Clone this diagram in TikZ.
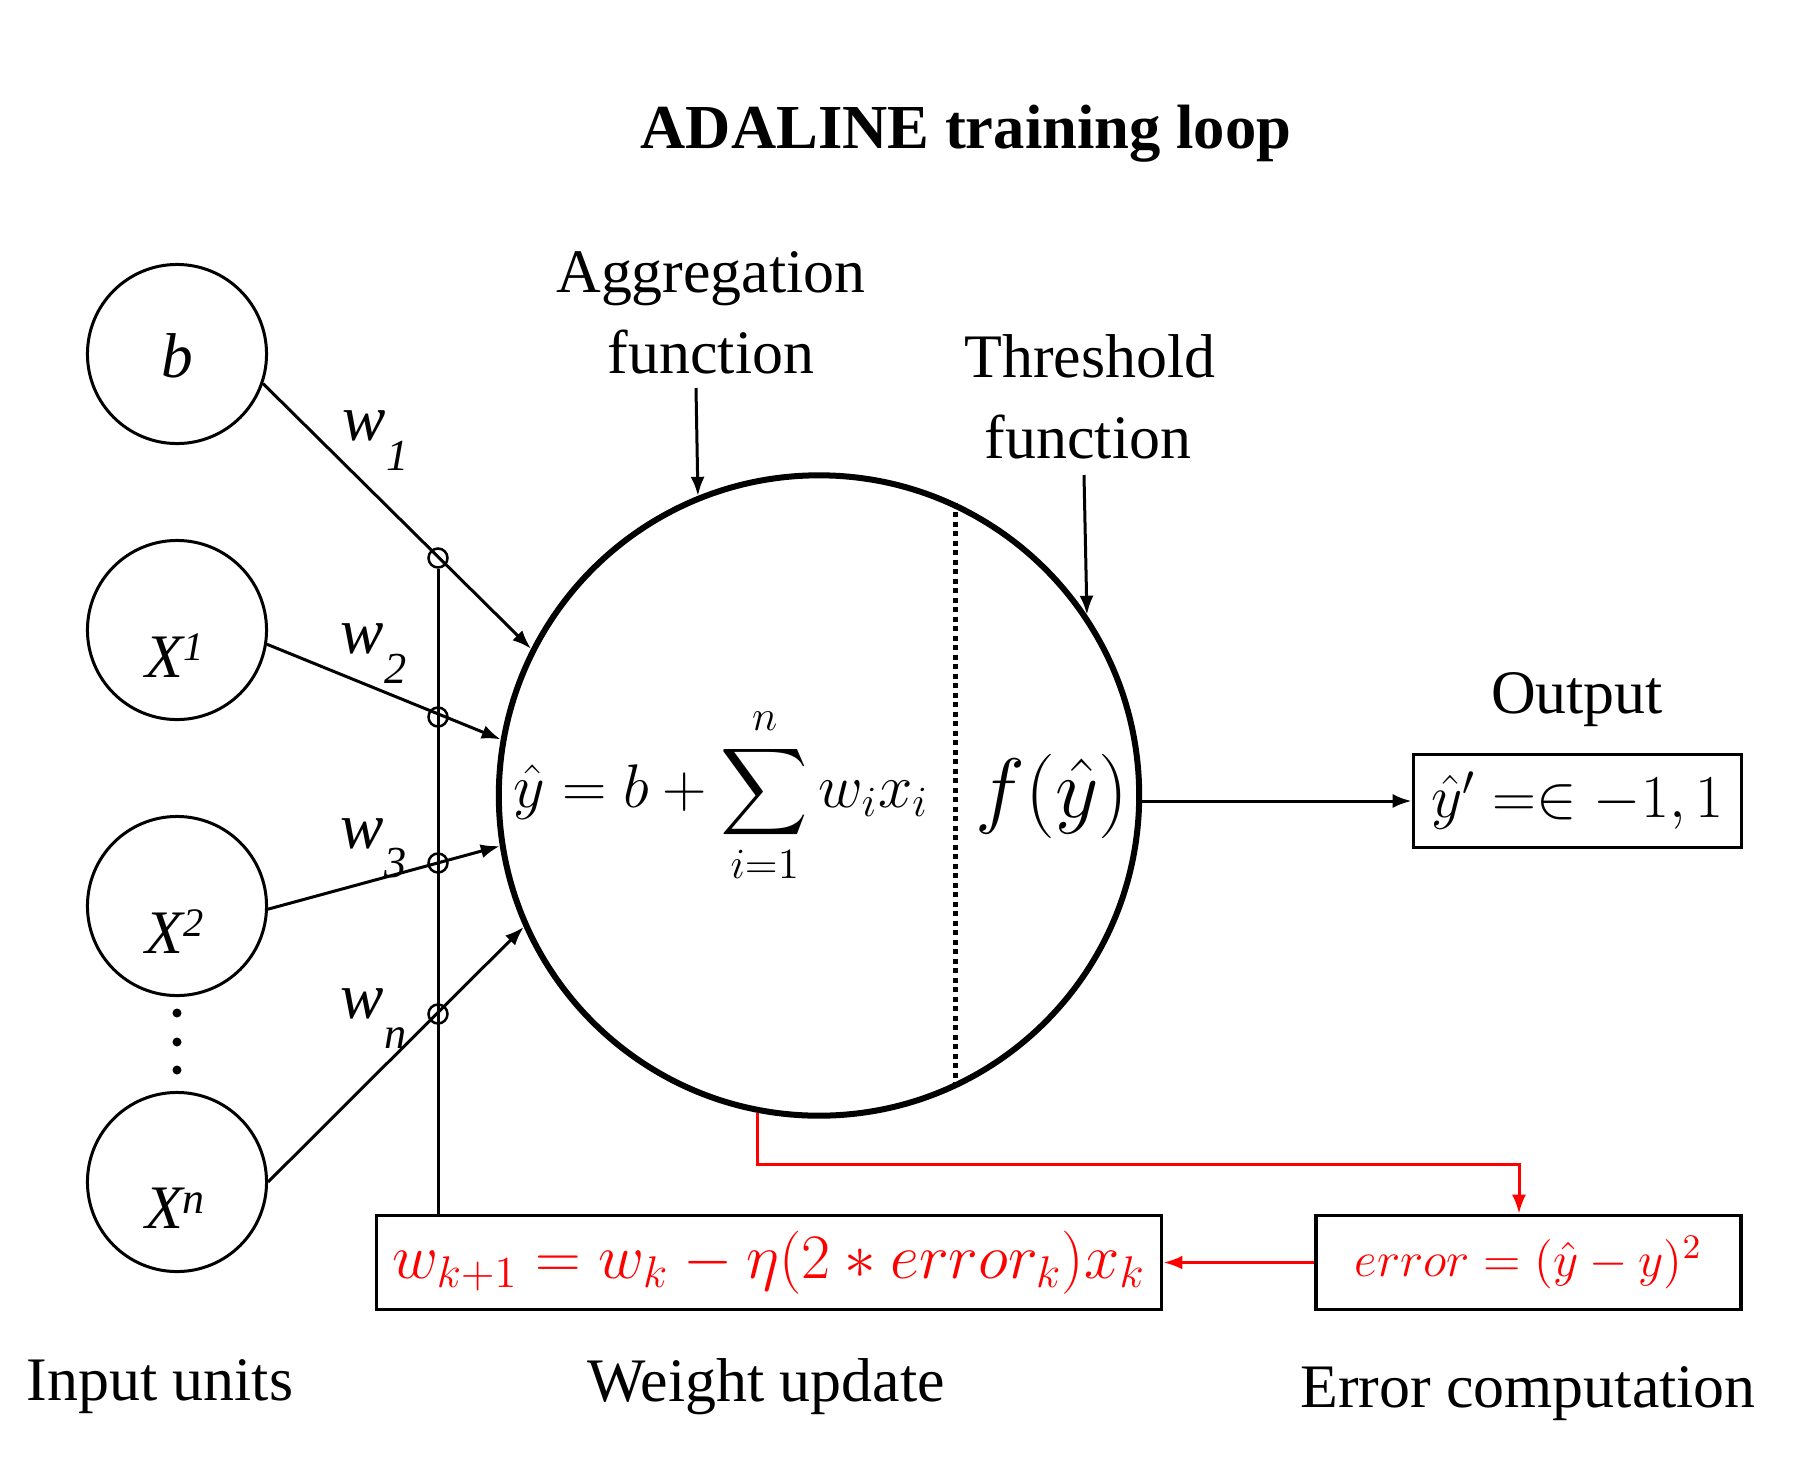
\RequirePackage{fix-cm}
\documentclass[tikz,border=0pt]{standalone}
\usepackage{exscale}
\usepackage[no-math]{fontspec}
\setmainfont{Liberation Serif}
\usetikzlibrary{arrows.meta}
\newcommand\fsz[1]{\fontsize{#1}{#1}\selectfont}
\begin{document}
\begin{tikzpicture}[x=0.01cm,y=-0.01cm,
  conn/.style={line width=0.03cm},
  arr/.style={-{Latex[length=0.19cm,width=0.14cm]}},
  inunit/.style={circle,draw,line width=0.03cm,minimum size=1.79cm,inner sep=0pt},
  tap/.style={circle,draw,line width=0.025cm,minimum size=0.19cm,inner sep=0pt},
  neuron/.style={circle,draw,line width=0.06cm,minimum size=6.4cm,inner sep=0pt},
  txt/.style={inner sep=0pt,anchor=base,font=\fsz{17.6}},
  wlab/.style={inner sep=0pt,anchor=base west,font=\fsz{18.5}\itshape},
  xlab/.style={inner sep=0pt,anchor=base,font=\fsz{17.6}\itshape},
  mbox/.style={draw,line width=0.035cm,inner sep=0pt},
  redline/.style={draw=red,line width=0.03cm},
  dotline/.style={line width=0.045cm,dash pattern=on 0.05cm off 0.045cm},
]
\useasboundingbox (0,0) rectangle (1808,1478);

% title and labels
\node[txt,font=\fsz{17.8}\bfseries] (title) at (966,148) {ADALINE training loop};
\node[txt] (agg1) at (711,292) {Aggregation};
\node[txt] (agg2) at (711,373) {function};
\node[txt] (thr1) at (1090,377) {Threshold};
\node[txt] (thr2) at (1088,458) {function};
\node[txt] (outl) at (1577,713) {Output};
\node[txt] (inl) at (160,1400) {Input units};
\node[txt] (wul) at (766,1401) {Weight update};
\node[txt] (ecl) at (1528,1407) {Error computation};

% neuron
\node[neuron] (big) at (819,795.5) {};
\draw[dotline] (big.65.2) -- (big.-65.2);
\node[inner sep=0pt,anchor=base,font=\fsz{17.5}] (sumf) at (721,807) {$\displaystyle \hat{y} = b + \sum_{i=1}^{n} w_i x_i$};
\node[inner sep=0pt,anchor=base,font=\fsz{24}] (fy) at (1052,817) {$f(\hat{y})$};

% input units
\node[inunit] (b) at (177,354) {};
\node[inunit] (x1) at (177,630) {};
\node[inunit] (x2) at (177,906) {};
\node[inunit] (xn) at (177,1182) {};
\node[xlab,font=\fsz{18}\itshape] (bl) at (177,377) {b};
\node[xlab] (x1l) at (175,677) {X\raisebox{0.17cm}{\fsz{11.5}1}};
\node[xlab] (x2l) at (175,953) {X\raisebox{0.17cm}{\fsz{11.5}2}};
\node[xlab] (xnl) at (175,1228) {X\raisebox{0.15cm}{\fsz{12.5}n}};
\fill (177,1013) circle[radius=0.045cm];
\fill (177,1042) circle[radius=0.045cm];
\fill (177,1070) circle[radius=0.045cm];

% taps
\node[tap] (t1) at (438,558) {};
\node[tap] (t2) at (438,717) {};
\node[tap] (t3) at (438,863) {};
\node[tap] (t4) at (438,1014) {};

% weight labels
\node[wlab] (w1) at (342,440) {w\raisebox{-0.3cm}{\fsz{12.6}1}};
\node[wlab] (w2) at (340,653) {w\raisebox{-0.3cm}{\fsz{12.6}2}};
\node[wlab] (w3) at (340,848) {w\raisebox{-0.29cm}{\fsz{12.6}3}};
\node[wlab] (wn) at (340,1018) {w\raisebox{-0.3cm}{\fsz{12.6}n}};

% boxes
\node[mbox,minimum width=7.85cm,minimum height=0.94cm,text=red,font=\fsz{18}] (wbox) at (769,1262.5) {$w_{k+1} = w_k - \eta(2*error_k)x_k$};
\node[mbox,minimum width=4.25cm,minimum height=0.94cm,text=red,font=\fsz{14}] (ebox) at (1528.5,1262.5) {$error = (\hat{y}-y)^2$};
\node[mbox,minimum width=3.28cm,minimum height=0.93cm,font=\fsz{17.3}] (obox) at (1577.5,801) {$\hat{y}' =\in -1, 1$};

% connectors
\draw[conn,arr] (b.-19.6) -- (big.153.3);
\draw[conn,arr] (x1.-9.4) -- (big.170.7);
\draw[conn,arr] (x2.-2.5) -- (big.189);
\draw[conn,arr] (xn.0) -- (big.204.3);
\draw[conn] (t1.south) -- (t1.south |- wbox.north);

\coordinate (aggtail) at (696,388);
\draw[conn,arr] (aggtail) -- (big.112.38);
\coordinate (thrtail) at (1084,475);
\draw[conn,arr] (thrtail) -- (big.34.9);

\draw[conn,arr] (big.east |- obox.west) -- (obox.west);

\coordinate (rc) at (1519,1164);
\draw[redline,arr] (big.259.9) |- (rc) -- (rc |- ebox.north);
\draw[redline,arr] (ebox.west) -- (wbox.east);
\end{tikzpicture}
\end{document}
